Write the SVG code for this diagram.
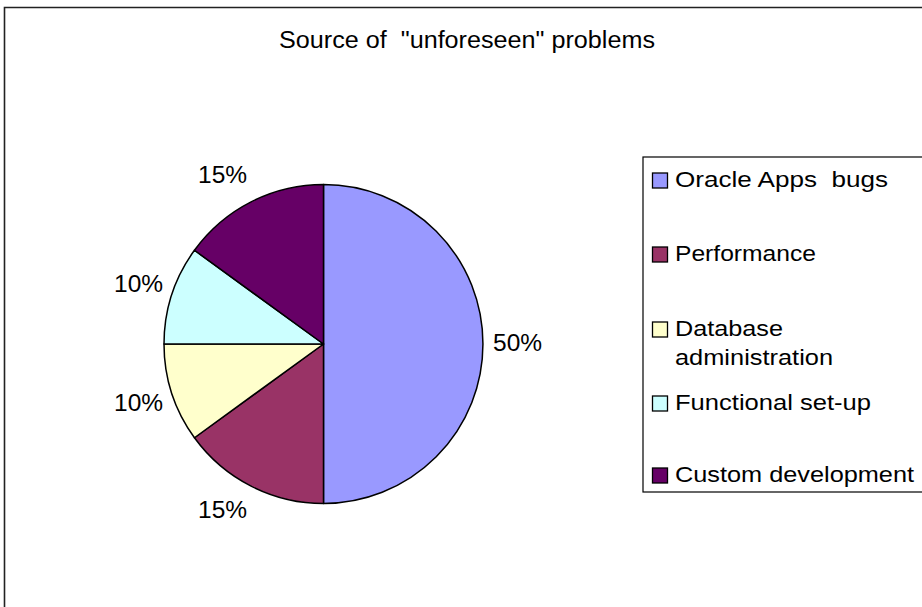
<svg xmlns="http://www.w3.org/2000/svg" width="922" height="607" viewBox="0 0 922 607">
<style>
  text { font-family: "Liberation Sans", Arial, sans-serif; fill: #000; white-space: pre; }
  .pct { font-size: 24.5px; }
  .leg { font-size: 22px; }
  .slice { stroke: #000; stroke-width: 1.5; stroke-linejoin: round; }
  .mk { stroke: #000; stroke-width: 1.3; }
</style>
<rect x="0" y="0" width="922" height="607" fill="#fff"/>
<g id="frame">
  <path d="M4.5 612 V7.5 H930" fill="none" stroke="#222" stroke-width="1.6"/>
</g>
<g id="title">
  <text xml:space="preserve" x="279" y="48" font-size="23" textLength="376" lengthAdjust="spacingAndGlyphs">Source of  "unforeseen" problems</text>
</g>
<g id="pie">
  <g id="slice-oracle"><path class="slice" fill="#9999FF" d="M323.5 344 L323.5 184.5 A159.5 159.5 0 0 1 323.5 503.5 Z"/></g>
  <g id="slice-performance"><path class="slice" fill="#993366" d="M323.5 344 L323.5 503.5 A159.5 159.5 0 0 1 194.46 437.75 Z"/></g>
  <g id="slice-database"><path class="slice" fill="#FFFFCC" d="M323.5 344 L194.46 437.75 A159.5 159.5 0 0 1 164 344 Z"/></g>
  <g id="slice-functional"><path class="slice" fill="#CCFFFF" d="M323.5 344 L164 344 A159.5 159.5 0 0 1 194.46 250.25 Z"/></g>
  <g id="slice-custom"><path class="slice" fill="#660066" d="M323.5 344 L194.46 250.25 A159.5 159.5 0 0 1 323.5 184.5 Z"/></g>
</g>
<g id="labels">
  <text class="pct" x="198" y="183">15%</text>
  <text class="pct" x="114" y="292">10%</text>
  <text class="pct" x="114" y="411">10%</text>
  <text class="pct" x="198" y="518">15%</text>
  <text class="pct" x="493" y="351">50%</text>
</g>
<g id="legend">
  <rect x="643" y="157" width="290" height="335" fill="#fff" stroke="#000" stroke-width="1.2"/>
  <g id="leg-oracle">
    <rect class="mk" x="652.5" y="173" width="15" height="15" fill="#9999FF"/>
    <text xml:space="preserve" class="leg" x="675" y="187" textLength="213" lengthAdjust="spacingAndGlyphs">Oracle Apps  bugs</text>
  </g>
  <g id="leg-performance">
    <rect class="mk" x="652.5" y="247" width="15" height="15" fill="#993366"/>
    <text class="leg" x="675" y="261" textLength="141" lengthAdjust="spacingAndGlyphs">Performance</text>
  </g>
  <g id="leg-database">
    <rect class="mk" x="652.5" y="322" width="15" height="15" fill="#FFFFCC"/>
    <text class="leg" x="675" y="336" textLength="108" lengthAdjust="spacingAndGlyphs">Database</text>
    <text class="leg" x="675" y="365" textLength="158" lengthAdjust="spacingAndGlyphs">administration</text>
  </g>
  <g id="leg-functional">
    <rect class="mk" x="652.5" y="396" width="15" height="15" fill="#CCFFFF"/>
    <text class="leg" x="675" y="410" textLength="196" lengthAdjust="spacingAndGlyphs">Functional set-up</text>
  </g>
  <g id="leg-custom">
    <rect class="mk" x="652.5" y="468" width="15" height="15" fill="#660066"/>
    <text class="leg" x="675" y="482" textLength="239" lengthAdjust="spacingAndGlyphs">Custom development</text>
  </g>
</g>
</svg>
